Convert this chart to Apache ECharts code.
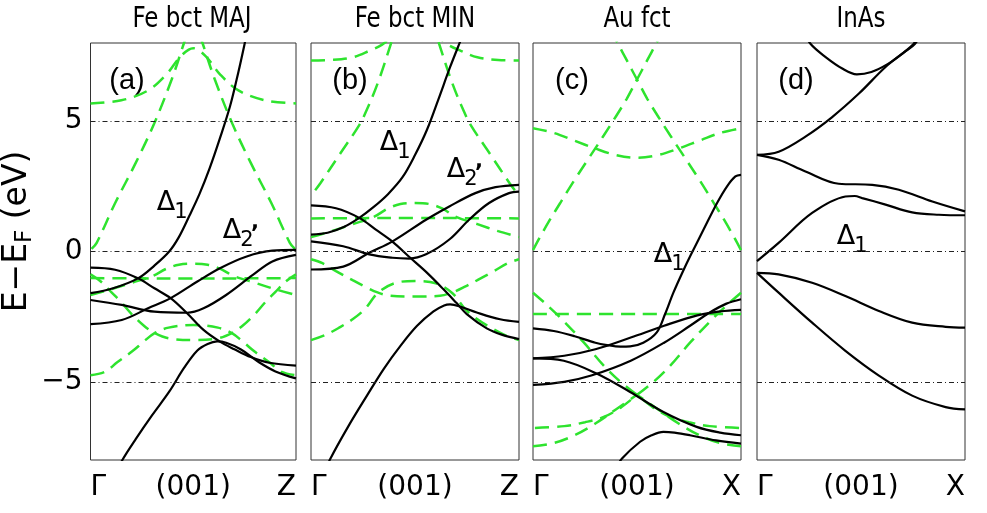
<!DOCTYPE html>
<html>
<head>
<meta charset="utf-8">
<script src="https://cdn.jsdelivr.net/npm/echarts@6/dist/echarts.min.js"></script>
<style>
  html, body { margin: 0; padding: 0; background: #fff; }
  #chart { width: 987px; height: 513px; }
</style>
</head>
<body>
<div id="chart"></div>
<script>
// ---- Panel texts ----
const panelTitles = ['Fe bct MAJ', 'Fe bct MIN', 'Au fct', 'InAs'];
const panelTags = ['(a)', '(b)', '(c)', '(d)'];
const kPathLabels = [['Γ', '(001)', 'Z'], ['Γ', '(001)', 'Z'], ['Γ', '(001)', 'X'], ['Γ', '(001)', 'X']];
const energyTicks = [-5, 0, 5];
const referenceLevels = [5, 0, -5];

// ---- Fe bct majority: bands [k (Γ=0, Z=1), E-EF (eV)] ----
const majS1 = [[0,-1.6],[0.11,-1.41],[0.231,-1.03],[0.311,-0.54],[0.383,0],[0.43,0.55],[0.48,1.35],[0.53,2.2],[0.58,3.2],[0.63,4.35],[0.68,5.6],[0.72,6.9],[0.75,7.97],[0.78,9.1]];
const majS2 = [[0,-0.62],[0.12,-0.7],[0.231,-1.03],[0.311,-1.41],[0.39,-1.79],[0.47,-2.37],[0.55,-3.01],[0.63,-3.46],[0.7,-3.75],[0.78,-4.05],[0.87,-4.27],[1,-4.38]];
const majS3 = [[0,-1.86],[0.152,-2.05],[0.311,-2.31],[0.47,-2.35],[0.55,-2.18],[0.66,-1.67],[0.79,-0.9],[0.885,-0.38],[1,-0.13]];
const majS4 = [[0,-2.79],[0.152,-2.63],[0.28,-2.18],[0.39,-1.79],[0.52,-1.15],[0.63,-0.64],[0.76,-0.19],[0.885,0.03],[1,0.06]];
const majS5 = [[0.12,-8.55],[0.155,-8.0],[0.22,-7.2],[0.3,-6.28],[0.383,-5.38],[0.456,-4.46],[0.52,-3.8],[0.57,-3.55],[0.616,-3.45],[0.66,-3.5],[0.73,-3.75],[0.82,-4.25],[0.9,-4.6],[1,-4.87]];
// free-electron reference bands (dashed)
const majG1 = [[0,5.68],[0.15,5.8],[0.28,6.18],[0.37,6.8],[0.44,7.5],[0.5,7.8],[0.56,7.5],[0.63,6.8],[0.72,6.18],[0.85,5.8],[1,5.68]];
const majG2 = [[0.005,0.1],[0.03,0.33],[0.12,1.86],[0.22,3.4],[0.31,4.91],[0.395,6.6],[0.455,8.0],[0.48,8.6]];
const majG3 = [[0.995,0.1],[0.97,0.33],[0.88,1.86],[0.78,3.4],[0.69,4.91],[0.605,6.6],[0.545,8.0],[0.52,8.6]];
const majG4 = [[0,-1.02],[0.25,-1.03],[0.5,-1.04],[0.75,-1.03],[1,-1.02]];
const majG5 = [[0,-1.67],[0.1,-1.45],[0.2,-1.2],[0.3,-0.95],[0.37,-0.66],[0.43,-0.51],[0.5,-0.47],[0.57,-0.51],[0.63,-0.66],[0.7,-0.95],[0.8,-1.2],[0.9,-1.45],[1,-1.67]];
const majG6 = [[0,-0.88],[0.05,-1.15],[0.1,-1.55],[0.15,-1.95],[0.2,-2.4],[0.26,-2.85],[0.31,-3.12],[0.38,-3.33],[0.5,-3.4],[0.62,-3.33],[0.69,-3.12],[0.74,-2.85],[0.8,-2.4],[0.85,-1.95],[0.9,-1.55],[0.95,-1.15],[1,-0.88]];
const majG7 = [[0,-4.75],[0.07,-4.62],[0.13,-4.25],[0.2,-3.85],[0.26,-3.45],[0.31,-3.14],[0.38,-2.92],[0.5,-2.82],[0.62,-2.92],[0.69,-3.14],[0.74,-3.45],[0.8,-3.85],[0.87,-4.25],[0.93,-4.62],[1,-4.75]];

// ---- Fe bct minority ----
const minS1 = [[0,0.65],[0.08,0.72],[0.16,0.95],[0.232,1.29],[0.3,1.7],[0.37,2.2],[0.44,2.85],[0.5,3.7],[0.557,4.66],[0.613,5.85],[0.669,7.08],[0.717,8.05],[0.74,8.5]];
const minS2 = [[0,1.77],[0.12,1.66],[0.232,1.29],[0.31,0.85],[0.39,0.39],[0.477,-0.24],[0.557,-0.81],[0.637,-1.45],[0.7,-1.98],[0.749,-2.4],[0.845,-2.95],[0.92,-3.2],[1,-3.36]];
const minS3 = [[0.075,-8.3],[0.093,-7.95],[0.18,-6.7],[0.269,-5.53],[0.35,-4.5],[0.43,-3.62],[0.51,-2.85],[0.589,-2.3],[0.64,-2.07],[0.669,-2.03],[0.72,-2.12],[0.797,-2.34],[0.909,-2.6],[1,-2.7]];
const minS4 = [[0,0.39],[0.155,0.2],[0.28,-0.11],[0.392,-0.24],[0.472,-0.27],[0.553,-0.11],[0.665,0.46],[0.76,1.22],[0.856,1.86],[0.952,2.24],[1,2.3]];
const minS5 = [[0,-0.69],[0.155,-0.58],[0.28,-0.05],[0.392,0.39],[0.553,1.22],[0.665,1.73],[0.79,2.24],[0.887,2.47],[1,2.56]];
const minG1 = [[0,7.33],[0.1,7.35],[0.2,7.45],[0.28,7.7],[0.34,7.93],[0.4,8.3],[0.46,8.6],[0.5,8.7],[0.54,8.6],[0.6,8.3],[0.66,7.93],[0.72,7.7],[0.8,7.45],[0.9,7.35],[1,7.33]];
const minG2 = [[0.02,2.35],[0.045,2.62],[0.14,3.75],[0.232,4.85],[0.264,5.36],[0.32,6.44],[0.384,7.97],[0.41,8.7]];
const minG3 = [[0.98,2.35],[0.955,2.62],[0.86,3.75],[0.768,4.85],[0.736,5.36],[0.68,6.44],[0.616,7.97],[0.59,8.7]];
const minG4 = [[0,1.27],[0.25,1.28],[0.5,1.29],[0.75,1.28],[1,1.27]];
const minG5 = [[0,0.55],[0.1,0.78],[0.2,1.05],[0.3,1.32],[0.37,1.65],[0.43,1.82],[0.5,1.86],[0.57,1.82],[0.63,1.65],[0.7,1.32],[0.8,1.05],[0.9,0.78],[1,0.55]];
const minG6 = [[0,-0.3],[0.055,-0.45],[0.12,-0.75],[0.2,-1.1],[0.26,-1.35],[0.32,-1.57],[0.38,-1.7],[0.5,-1.73],[0.62,-1.7],[0.68,-1.57],[0.74,-1.35],[0.8,-1.1],[0.88,-0.75],[0.945,-0.45],[1,-0.3]];
const minG7 = [[0,-3.4],[0.07,-3.2],[0.14,-2.9],[0.2,-2.6],[0.26,-2.2],[0.32,-1.6],[0.4,-1.22],[0.5,-1.13],[0.6,-1.22],[0.68,-1.6],[0.74,-2.2],[0.8,-2.6],[0.86,-2.9],[0.93,-3.2],[1,-3.4]];

// ---- Au fct ----
const auS1 = [[0,-2.95],[0.1,-3.05],[0.2,-3.25],[0.3,-3.5],[0.356,-3.59],[0.42,-3.65],[0.467,-3.64],[0.53,-3.5],[0.595,-3.1],[0.635,-2.4],[0.675,-1.58],[0.725,-0.69],[0.77,0.05],[0.82,0.84],[0.885,1.86],[0.933,2.5],[0.973,2.88],[1,2.94]];
const auS2 = [[0,-4.1],[0.15,-4.0],[0.3,-3.75],[0.47,-3.3],[0.63,-2.85],[0.79,-2.45],[0.9,-2.3],[1,-2.24]];
const auS3 = [[0,-4.1],[0.148,-4.19],[0.308,-4.69],[0.467,-5.39],[0.627,-6.16],[0.787,-6.73],[0.9,-6.95],[1,-7.05]];
const auS4 = [[0,-5.12],[0.15,-5.0],[0.28,-4.76],[0.47,-4.19],[0.63,-3.5],[0.755,-2.85],[0.85,-2.34],[0.93,-2.0],[1,-1.83]];
const auS5 = [[0.4,-8.3],[0.428,-7.94],[0.515,-7.3],[0.57,-7.05],[0.627,-6.92],[0.68,-6.95],[0.755,-7.05],[0.88,-7.25],[1,-7.37]];
const auG1 = [[0,0.05],[0.03,0.5],[0.08,1.2],[0.13,1.85],[0.2,2.75],[0.27,3.6],[0.34,4.45],[0.4,5.2],[0.45,5.85],[0.5,6.6],[0.55,7.35],[0.6,8.1]];
const auG2 = [[1,0.05],[0.97,0.5],[0.92,1.2],[0.87,1.85],[0.8,2.75],[0.73,3.6],[0.66,4.45],[0.6,5.2],[0.55,5.85],[0.5,6.6],[0.45,7.35],[0.4,8.1]];
const auG3 = [[0,4.73],[0.1,4.55],[0.2,4.25],[0.3,3.95],[0.4,3.7],[0.5,3.6],[0.6,3.7],[0.7,3.95],[0.8,4.25],[0.9,4.55],[1,4.73]];
const auG4 = [[0,-2.4],[0.5,-2.4],[1,-2.4]];
const auG5 = [[0,-1.58],[0.06,-2.0],[0.13,-2.53],[0.244,-3.49],[0.34,-4.38],[0.42,-5.0],[0.5,-5.5],[0.58,-6.0],[0.66,-6.35],[0.75,-6.55],[0.85,-6.7],[1,-6.77]];
const auG6 = [[1,-1.58],[0.94,-2.0],[0.87,-2.53],[0.756,-3.49],[0.66,-4.38],[0.58,-5.0],[0.5,-5.5],[0.42,-6.0],[0.34,-6.35],[0.25,-6.55],[0.15,-6.7],[0,-6.77]];
const auG7 = [[0,-7.47],[0.1,-7.35],[0.2,-7.05],[0.3,-6.6],[0.4,-6.05],[0.5,-5.5]];
const auG8 = [[1,-7.47],[0.9,-7.35],[0.8,-7.05],[0.7,-6.6],[0.6,-6.05],[0.5,-5.5]];

// ---- InAs ----
const inS1 = [[0.22,8.5],[0.257,7.97],[0.33,7.46],[0.41,7.02],[0.48,6.8],[0.55,6.89],[0.63,7.2],[0.71,7.66],[0.76,7.97],[0.79,8.4]];
const inS2 = [[0,3.71],[0.104,3.83],[0.233,4.41],[0.36,5.15],[0.49,6.06],[0.618,7.08],[0.746,7.91],[0.78,8.3]];
const inS3 = [[0,3.71],[0.104,3.52],[0.233,3.07],[0.393,2.6],[0.554,2.56],[0.682,2.37],[0.843,1.92],[1,1.54]];
const inS4 = [[0,-0.37],[0.104,0.33],[0.265,1.48],[0.425,2.11],[0.47,2.13],[0.506,2.05],[0.618,1.8],[0.746,1.5],[0.875,1.41],[1,1.39]];
const inS5 = [[0,-0.82],[0.104,-0.88],[0.265,-1.2],[0.425,-1.71],[0.586,-2.28],[0.746,-2.73],[0.907,-2.89],[1,-2.92]];
const inS6 = [[0,-0.82],[0.104,-1.58],[0.265,-2.73],[0.425,-3.81],[0.586,-4.76],[0.746,-5.53],[0.907,-5.97],[1,-6.06]];

const panelBands = [
  { solid: [majS1, majS2, majS3, majS4, majS5], dashed: [majG1, majG2, majG3, majG4, majG5, majG6, majG7] },
  { solid: [minS1, minS2, minS3, minS4, minS5], dashed: [minG1, minG2, minG3, minG4, minG5, minG6, minG7] },
  { solid: [auS1, auS2, auS3, auS4, auS5], dashed: [auG1, auG2, auG3, auG4, auG5, auG6, auG7, auG8] },
  { solid: [inS1, inS2, inS3, inS4, inS5, inS6], dashed: [] }
];

// ---- Layout ----
const PANEL_X = [88, 311, 533, 757];
const PANEL_W = 208, PANEL_TOP = 43, PANEL_H = 417;
const SANS = "'DejaVu Sans', sans-serif";
const TAG_FONT = "'Liberation Sans', Arial, sans-serif";
const TITLE_FONT = "'DejaVu Sans Condensed', 'DejaVu Sans', sans-serif";
const LINE_BLACK = '#000000';
const LINE_GREEN = '#2ee32e';

const grids = PANEL_X.map(x => ({
  left: x, top: PANEL_TOP, width: PANEL_W, height: PANEL_H,
  show: true, borderColor: '#333', borderWidth: 1, backgroundColor: 'rgba(0,0,0,0)'
}));

const xAxes = PANEL_X.map((_, i) => ({
  gridIndex: i, type: 'value', min: 0, max: 1,
  axisLine: { show: false }, axisTick: { show: false }, splitLine: { show: false },
  axisLabel: {
    customValues: [0, 0.5, 1], showMinLabel: true, showMaxLabel: true,
    alignMinLabel: 'left', alignMaxLabel: 'right',
    margin: 14, fontSize: 28, color: '#000', fontFamily: SANS,
    formatter: v => kPathLabels[i][v === 0 ? 0 : (v === 1 ? 2 : 1)]
  }
}));

const yAxes = PANEL_X.map((_, i) => ({
  gridIndex: i, type: 'value', min: -8, max: 8,
  axisLine: { show: false }, axisTick: { show: false }, splitLine: { show: false },
  axisLabel: i === 0 ? {
    customValues: energyTicks, fontSize: 28, margin: 8, color: '#000', fontFamily: SANS,
    formatter: v => (v < 0 ? '\u2212' + Math.abs(v) : String(v))
  } : { show: false },
  name: i === 0 ? '{e|E\u2212E}{f|F}{e| (eV)}' : '',
  nameLocation: 'middle', nameRotate: 90, nameGap: 54,
  nameTextStyle: {
    padding: [0, 0, 0, 40],
    rich: {
      e: { fontSize: 33, fontFamily: SANS, color: '#000', lineHeight: 38, verticalAlign: 'middle' },
      f: { fontSize: 23, fontFamily: SANS, color: '#000', lineHeight: 20, verticalAlign: 'bottom' }
    }
  }
}));

const series = [];
panelBands.forEach((p, i) => {
  p.dashed.forEach(d => series.push({
    type: 'line', xAxisIndex: i, yAxisIndex: i, data: d, smooth: 0.35,
    showSymbol: false, silent: true, z: 2,
    lineStyle: { color: LINE_GREEN, width: 2.5, type: [14, 8] }
  }));
  p.solid.forEach((d, j) => series.push({
    type: 'line', xAxisIndex: i, yAxisIndex: i, data: d, smooth: 0.35,
    showSymbol: false, silent: true, z: 3,
    lineStyle: { color: LINE_BLACK, width: 2.2 },
    markLine: j === 0 ? {
      silent: true, symbol: ['none', 'none'], label: { show: false }, animation: false,
      lineStyle: { color: '#222', width: 1, type: [5, 3, 1, 3] },
      data: referenceLevels.map(v => ({ yAxis: v }))
    } : undefined
  }));
});

// panel titles: condensed lettering, narrowed horizontally
const titleTexts = panelTitles.map((t, i) => ({
  type: 'text', x: PANEL_X[i] + PANEL_W / 2, y: 5, scaleX: 0.88,
  style: { text: t, fontSize: 29, fontFamily: TITLE_FONT, fill: '#000', align: 'center', verticalAlign: 'top' }
}));

// band symmetry labels
function bandLabel(cx, cy, sub, prime) {
  const els = [
    { type: 'text', x: cx, y: cy, style: { text: '\u0394', fontSize: 27, fontFamily: SANS, fill: '#000', align: 'center', verticalAlign: 'middle' } },
    { type: 'text', x: cx + 15, y: cy + 10, style: { text: sub, fontSize: 21, fontFamily: SANS, fill: '#000', align: 'center', verticalAlign: 'middle' } }
  ];
  if (prime) {
    els.push({ type: 'text', x: cx + 23, y: cy + 3, style: { text: '\u02bc', fontSize: 22, fontWeight: 'bold', fontFamily: SANS, fill: '#000', align: 'center', verticalAlign: 'middle' } });
  }
  return els;
}

const graphics = [].concat(
  titleTexts,
  panelTags.map((t, i) => ({
    type: 'text', x: PANEL_X[i] + 39, y: 81,
    style: { text: t, fontSize: 29, fontFamily: TAG_FONT, fill: '#000', align: 'center', verticalAlign: 'middle' }
  })),
  bandLabel(166, 203, '1'),
  bandLabel(232, 231, '2', true),
  bandLabel(389, 143, '1'),
  bandLabel(456, 170, '2', true),
  bandLabel(663, 255, '1'),
  bandLabel(846, 237, '1')
);

const chart = echarts.init(document.getElementById('chart'));
chart.setOption({
  animation: false,
  backgroundColor: '#fff',
  grid: grids,
  xAxis: xAxes,
  yAxis: yAxes,
  series: series,
  graphic: graphics
});
</script>
</body>
</html>
